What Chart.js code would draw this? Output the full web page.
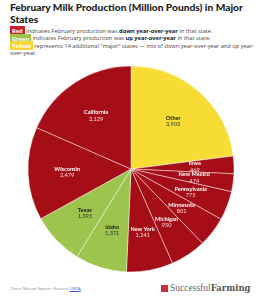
<!DOCTYPE html>
<html lang="en">
  <head>
    <meta charset="UTF-8" />
    <title>February Milk Production</title>
    <script src="https://cdn.jsdelivr.net/npm/chart.js"></script>
    <style>
      body { margin: 0; width: 266px; height: 300px; background: #fff; font-family: 'Open Sans', Lato, sans-serif; position: relative; overflow: hidden; }
      h1 { position: absolute; left: 10px; top: 2px; width: 256px; margin: 0; font-family: Lato, sans-serif; font-size: 10.2px; line-height: 11.5px; font-weight: 900; color: #222; }
      .notes { position: absolute; left: 10px; top: 27.5px; width: 248px; font-size: 5.7px; line-height: 7.6px; color: #444; }
      .tag { color: #fff; font-weight: bold; padding: 0.5px 2px; }
      .notes b { color: #222; }
      .foot { position: absolute; left: 10px; top: 286px; font-size: 4.2px; color: #888; }
      .foot u { color: #3355cc; }
      .logo { position: absolute; left: 161px; top: 281px; font-size: 9.5px; color: #666; white-space: nowrap; }
      .logo .sq { display: inline-block; width: 7px; height: 7px; background: #c8333a; vertical-align: -0.5px; margin-right: 2px; }
      .logo .s { font-family: 'Liberation Serif', serif; }
      .logo .f { font-family: 'DejaVu Serif', serif; font-weight: bold; font-size: 8.5px; color: #555; }
      #wrap { position: absolute; left: 21px; top: 59px; width: 220px; height: 220px; }
    </style>
  </head>
  <body>
    <h1>February Milk Production (Million Pounds) in Major States</h1>
    <div class="notes">
      <span class="tag" style="background:#c8202f">Red</span> indicates February production was <b>down year-over-year</b> in that state.<br />
      <span class="tag" style="background:#9dc44d">Green</span> indicates February production was <b>up year-over-year</b> in that state.<br />
      <span class="tag" style="background:#f5d738">Yellow</span> represents 14 additional "major" states — mix of down year-over-year and up year-over-year.
    </div>
    <div id="wrap"><canvas id="myChart" width="220" height="220"></canvas></div>
    <div class="foot">Chart: Mariah Squire • Source: <u>USDA</u></div>
    <div class="logo"><span class="sq"></span><span class="s">Successful</span><span class="f">Farming</span></div>

    <script>
      const states = ['Other', 'Iowa', 'New Mexico', 'Pennsylvania', 'Minnesota', 'Michigan', 'New York', 'Idaho', 'Texas', 'Wisconsin', 'California'];
      const production = [3903, 469, 474, 775, 801, 950, 1241, 1371, 1393, 2479, 3129];
      const trend = ['mix', 'down', 'down', 'down', 'down', 'down', 'down', 'up', 'up', 'down', 'down'];

      const colors = { down: '#a50e17', up: '#9dc44d', mix: '#f6dc35' };

      // draw name + value inside each slice
      const sliceLabels = {
        id: 'sliceLabels',
        afterDatasetsDraw(chart) {
          const ctx = chart.ctx;
          const meta = chart.getDatasetMeta(0);
          ctx.save();
          ctx.textAlign = 'center';
          ctx.textBaseline = 'middle';
          meta.data.forEach((arc, i) => {
            const mid = (arc.startAngle + arc.endAngle) / 2;
            const r = arc.outerRadius * 0.62;
            const x = arc.x + Math.cos(mid) * r;
            const y = arc.y + Math.sin(mid) * r;
            const dark = trend[i] !== 'down';
            ctx.fillStyle = dark ? '#222' : '#fff';
            ctx.font = 'bold 5.6px Lato, sans-serif';
            ctx.fillText(states[i], x, y - 3);
            ctx.fillStyle = dark ? '#333' : '#f3dede';
            ctx.font = '5.6px Lato, sans-serif';
            ctx.fillText(production[i].toLocaleString('en-US'), x, y + 3.5);
          });
          ctx.restore();
        },
      };

      new Chart(document.getElementById('myChart'), {
        type: 'pie',
        plugins: [sliceLabels],
        data: {
          labels: states,
          datasets: [
            {
              data: production,
              backgroundColor: trend.map((t) => colors[t]),
              borderColor: 'rgba(255,255,255,0.75)',
              borderWidth: 0.6,
            },
          ],
        },
        options: {
          responsive: false,
          animation: false,
          radius: 103,
          layout: { padding: 0 },
          plugins: {
            legend: { display: false },
            tooltip: { enabled: false },
          },
        },
      });
    </script>
  </body>
</html>
